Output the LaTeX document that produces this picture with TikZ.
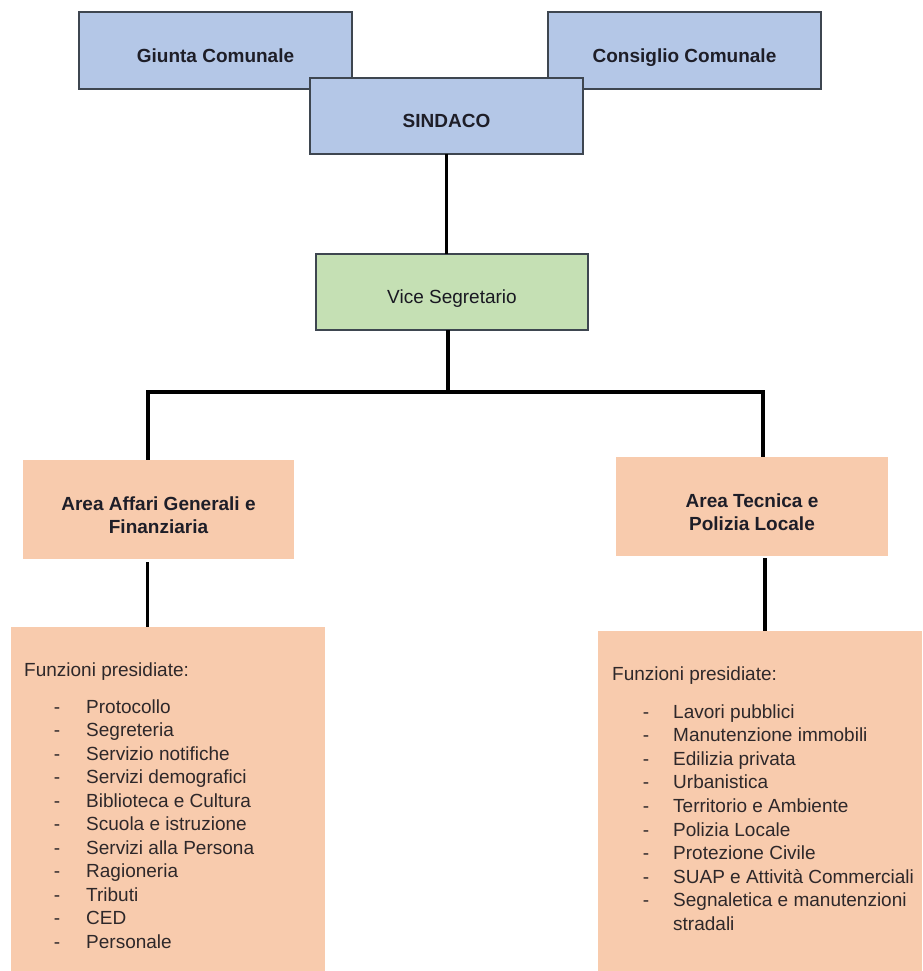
\documentclass[tikz,border=0pt]{standalone}
\usepackage{fontspec}
\setmainfont{Liberation Sans}
\definecolor{boxblue}{HTML}{B4C7E7}
\definecolor{boxgreen}{HTML}{C5E0B4}
\definecolor{boxpeach}{HTML}{F8CBAD}
\definecolor{edgegray}{HTML}{3E4650}
\definecolor{txtdark}{HTML}{1E1E28}
\begin{document}
\begin{tikzpicture}[x=1pt,y=-1pt,
  boxbase/.style={inner sep=0pt, outer sep=0pt, minimum width=#1},
  bluebox/.style={boxbase=273pt, minimum height=77pt, draw=edgegray, line width=1.5pt, fill=boxblue},
  greenbox/.style={boxbase=272pt, minimum height=76pt, draw=edgegray, line width=1.5pt, fill=boxgreen},
  peachbox/.style={boxbase=272pt, minimum height=99pt, fill=boxpeach},
  listbox/.style={inner sep=0pt, outer sep=0pt, fill=boxpeach},
  boldlabel/.style={font=\fontsize{19}{23}\selectfont\bfseries, text=txtdark, inner sep=0pt, text height=13.6pt, text depth=0pt, yshift=-5pt},
  plainlabel/.style={font=\fontsize{19}{23}\selectfont, text=txtdark!85!black, inner sep=0pt, text height=13.6pt, text depth=0pt, yshift=-4.6pt},
  arealabel/.style={font=\fontsize{19}{23}\selectfont\bfseries, text=txtdark, inner sep=0pt, align=center, yshift=-5.5pt},
  listtext/.style={font=\fontsize{19}{23}\selectfont, text=txtdark!90!brown, inner sep=0pt},
  link/.style={line width=3.2pt, draw=black}
]
\useasboundingbox (0,0) rectangle (922,971);

% top boxes
\node[bluebox] (giunta) at (215.5,50.5) {};
\node[boldlabel] (giuntaT) at (giunta.center) {Giunta Comunale};
\node[bluebox] (consiglio) at (684.5,50.5) {};
\node[boldlabel] (consiglioT) at (consiglio.center) {Consiglio Comunale};
\node[bluebox, minimum height=76pt] (sindaco) at (446.5,116) {};
\node[boldlabel] (sindacoT) at (sindaco.center) {SINDACO};

% vice segretario
\node[greenbox] (vice) at (452,292) {};
\node[plainlabel] (viceT) at (vice.center) {Vice Segretario};

% areas
\node[peachbox, minimum width=271pt] (affari) at (158.5,509.5) {};
\node[arealabel] (affariT) at (affari.center) {Area Affari Generali e\\Finanziaria};
\node[peachbox] (tecnica) at (752,506.5) {};
\node[arealabel] (tecnicaT) at (tecnica.center) {Area Tecnica e\\Polizia Locale};

% list boxes
\node[listbox, minimum width=314pt, minimum height=344pt] (listL) at (168,799) {};
\node[listbox, minimum width=324pt, minimum height=340pt] (listR) at (760,801) {};

% connectors
\coordinate (hl) at (148,392);
\coordinate (hr) at (763,392);
\draw[link] (sindaco.south) -- (sindaco.south |- vice.north);
\draw[link] ([xshift=-4pt]vice.south) -- ([xshift=-4pt]vice.south |- hl);
\draw[link, line cap=rect] (hl) -- (hr);
\draw[link] (hl) -- (hl |- affari.north);
\draw[link] (hr) -- (hr |- tecnica.north);
\draw[link] ([xshift=-11pt,yshift=-3pt]affari.south) -- ([xshift=-11pt]affari.south |- listL.north);
\draw[link] ([xshift=13pt,yshift=-2pt]tecnica.south) -- ([xshift=13pt]tecnica.south |- listR.north);

% left list
\node[listtext, anchor=base west] (funzL) at (24,676) {Funzioni presidiate:};
\foreach \t [count=\i] in {Protocollo,Segreteria,Servizio notifiche,Servizi demografici,Biblioteca e Cultura,Scuola e istruzione,Servizi alla Persona,Ragioneria,Tributi,CED,Personale}{
  \node[listtext, anchor=base] (ld\i) at (57,{713+(\i-1)*23.5}) {-};
  \node[listtext, anchor=base west] (la\i) at (86,{713+(\i-1)*23.5}) {\t};
}

% right list
\node[listtext, anchor=base west] (funzR) at (612,680) {Funzioni presidiate:};
\foreach \t [count=\i] in {Lavori pubblici,Manutenzione immobili,Edilizia privata,Urbanistica,Territorio e Ambiente,Polizia Locale,Protezione Civile,SUAP e Attività Commerciali,Segnaletica e manutenzioni}{
  \node[listtext, anchor=base] (rd\i) at (646,{718+(\i-1)*23.6}) {-};
  \node[listtext, anchor=base west] (ra\i) at (673,{718+(\i-1)*23.6}) {\t};
}
\node[listtext, anchor=base west] (ra10) at (673,{718+9*23.6}) {stradali};
\end{tikzpicture}
\end{document}
